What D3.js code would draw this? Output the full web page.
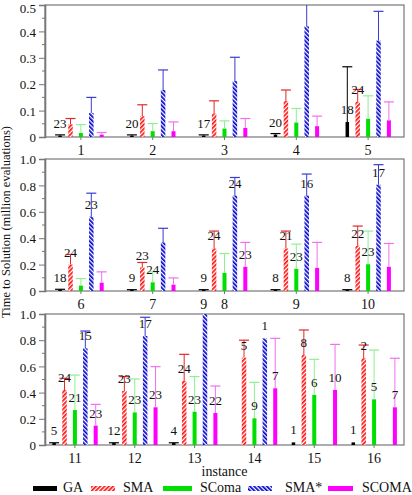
<!DOCTYPE html>
<html>
<head>
<meta charset="utf-8">
<script src="https://cdn.jsdelivr.net/npm/d3@7"></script>
<style>
body { margin: 0; background: #fff; }
</style>
</head>
<body>
<div id="chart"></div>
<script>
// instances shown in each of the three panels
const panel1 = [1, 2, 3, 4, 5];
const panel2 = [6, 7, 8, 9, 10];
const panel3 = [11, 12, 13, 14, 15, 16];
const panelMax = [0.5, 1.0, 1.0];
const ticksSmall = [0, 0.1, 0.2, 0.3, 0.4, 0.5];
const ticksLarge = [0, 0.2, 0.4, 0.6, 0.8, 1.0];

const seriesNames = ["GA", "SMA", "SComa", "SMA*", "SCOMA"];

// mean, top of error bar, number of successful runs (instances 1..16)
const gaMean  = [0.005, 0.005, 0.005, 0.009, 0.057, 0.010, 0.008, 0.008, 0.008, 0.008, 0.015, 0.015, 0.015, null, 0.020, 0.020];
const gaTop   = [0.008, 0.008, 0.008, 0.013, 0.266, 0.013, 0.010, 0.010, 0.010, 0.010, 0.017, 0.017, 0.017, null, null, null];
const gaCount = [23, 20, 17, 20, 18, 18, 9, 9, 8, 8, 5, 12, 4, null, 1, 1];

const smaMean  = [0.048, 0.079, 0.089, 0.136, 0.133, 0.200, 0.178, 0.322, 0.322, 0.343, 0.420, 0.412, 0.489, 0.667, 0.687, 0.662];
const smaTop   = [0.070, 0.122, 0.137, 0.178, 0.180, 0.277, 0.216, 0.454, 0.454, 0.492, 0.509, 0.522, 0.692, 0.800, 0.878, 0.763];
const smaCount = [null, null, null, null, 24, 24, 23, 24, 21, 22, 24, 23, 24, 5, 8, 2];

const scomaMean  = [0.015, 0.022, 0.032, 0.055, 0.069, 0.041, 0.066, 0.137, 0.168, 0.203, 0.267, 0.249, 0.254, 0.204, 0.382, 0.349];
const scomaTop   = [0.047, 0.051, 0.061, 0.108, 0.156, 0.094, 0.145, 0.284, 0.355, 0.454, 0.534, 0.504, 0.522, 0.478, 0.654, 0.725];
const scomaCount = [null, null, null, null, null, null, 24, null, 23, 23, 21, 23, 23, 9, 6, 5];

const smaStarMean  = [0.091, 0.178, 0.212, 0.419, 0.365, 0.563, 0.368, 0.723, 0.723, 0.805, 0.738, 0.832, 1.05, 0.814, null, null];
const smaStarTop   = [0.150, 0.254, 0.302, 0.560, 0.476, 0.741, 0.475, 0.860, 0.886, 0.957, 0.870, 0.975, 1.20, null, null, null];
const smaStarCount = [null, null, null, null, null, 23, null, 24, 16, 17, 15, 17, null, 1, null, null];

const scomaUpMean  = [0.009, 0.022, 0.034, 0.041, 0.063, 0.063, 0.048, 0.183, 0.175, 0.183, 0.148, 0.288, 0.244, 0.433, 0.420, 0.288];
const scomaUpTop   = [0.017, 0.057, 0.070, 0.079, 0.133, 0.145, 0.099, 0.368, 0.368, 0.360, 0.310, 0.598, 0.450, 0.814, 0.768, 0.662];
const scomaUpCount = [null, null, null, null, null, null, null, 23, null, null, 23, 23, 22, 7, 10, 7];

// build a table the drawing code can loop over
const series = [
    {name: "GA",    mean: gaMean,      top: gaTop,      count: gaCount,      fill: "#000",  err: "#000",    w: 3.5},
    {name: "SMA",   mean: smaMean,     top: smaTop,     count: smaCount,     fill: "url(#hatchRed)",  err: "#e02828", w: 4.5},
    {name: "SComa", mean: scomaMean,   top: scomaTop,   count: scomaCount,   fill: "#00e000", err: "#8ef08e", w: 4},
    {name: "SMA*",  mean: smaStarMean, top: smaStarTop, count: smaStarCount, fill: "url(#hatchBlue)", err: "#3a3ad0", w: 4.5},
    {name: "SCOMA", mean: scomaUpMean, top: scomaUpTop, count: scomaUpCount, fill: "#ff00ff", err: "#f070f0", w: 4}
];

const FONT = "'Liberation Serif', 'Times New Roman', Times, serif";
const width = 412, height = 495;
const left = 45, right = 404;
const panels = [
    {inst: panel1, max: panelMax[0], ticks: ticksSmall, top: 5,   bottom: 137},
    {inst: panel2, max: panelMax[1], ticks: ticksLarge, top: 159, bottom: 291},
    {inst: panel3, max: panelMax[2], ticks: ticksLarge, top: 314, bottom: 445}
];

const svg = d3.select("#chart")
    .append("svg")
    .attr("width", width)
    .attr("height", height)
    .attr("font-family", FONT);

const defs = svg.append("defs");

// diagonal hatches for the SMA and SMA* bars
function hatch(id, color, angle)
{
    const p = defs.append("pattern")
        .attr("id", id)
        .attr("patternUnits", "userSpaceOnUse")
        .attr("width", 3)
        .attr("height", 3)
        .attr("patternTransform", "rotate(" + angle + ")");
    p.append("rect").attr("width", 3).attr("height", 3).attr("fill", "#fff");
    p.append("rect").attr("width", 1.7).attr("height", 3).attr("fill", color);
}
hatch("hatchRed", "#ff1010", 45);
hatch("hatchBlue", "#0000d0", -45);

// offsets of the five bars inside a group, in pixels
const sx = d3.scaleBand().domain(seriesNames).range([-26, 26]);

panels.forEach((p, i) => {
    const x = d3.scaleBand().domain(p.inst).range([left, right]);
    const y = d3.scaleLinear().domain([0, p.max]).range([p.bottom, p.top]);
    const g = svg.append("g");

    defs.append("clipPath").attr("id", "clip" + i)
        .append("rect")
        .attr("x", left).attr("y", p.top)
        .attr("width", right - left).attr("height", p.bottom - p.top);

    // frame
    g.append("rect")
        .attr("x", left).attr("y", p.top)
        .attr("width", right - left).attr("height", p.bottom - p.top)
        .attr("fill", "none")
        .attr("stroke", "#777")
        .attr("stroke-width", 1.2);

    // Add the Y Axis
    const yAxis = d3.axisLeft(y)
        .tickValues(p.ticks)
        .tickSize(6)
        .tickPadding(3)
        .tickFormat(d => d === 0 ? "0" : d3.format(".1f")(d));
    const ya = g.append("g")
        .attr("transform", "translate(" + left + ",0)")
        .call(yAxis);
    ya.attr("font-family", FONT).attr("font-size", 13);
    ya.select(".domain").attr("stroke", "#777").attr("stroke-width", 1.6);
    ya.selectAll(".tick line").attr("stroke", "#777");
    ya.selectAll("text").attr("fill", "#111").attr("dy", "0.36em");
    // keep the very top label inside the page
    if (i === 0) {
        ya.selectAll("text").filter(d => d === p.max).attr("dy", "0.56em");
    }

    // minor ticks halfway between the labelled ones
    const step = p.ticks[1] - p.ticks[0];
    const minor = p.ticks.slice(1).map(t => t - step / 2);
    g.selectAll(".minor")
        .data(minor)
        .enter().append("line")
        .attr("x1", left - 3).attr("x2", left)
        .attr("y1", d => y(d)).attr("y2", d => y(d))
        .attr("stroke", "#777");

    // x tick marks and labels
    g.selectAll(".xt")
        .data(p.inst)
        .enter().append("line")
        .attr("x1", d => x(d) + x.bandwidth() / 2)
        .attr("x2", d => x(d) + x.bandwidth() / 2)
        .attr("y1", p.bottom).attr("y2", p.bottom + 3)
        .attr("stroke", "#777");
    g.selectAll(".xl")
        .data(p.inst)
        .enter().append("text")
        .attr("x", d => x(d) + x.bandwidth() / 2)
        .attr("y", p.bottom + 18)
        .attr("text-anchor", "middle")
        .attr("font-size", 14)
        .attr("fill", "#111")
        .text(d => d);

    const plot = g.append("g").attr("clip-path", "url(#clip" + i + ")");

    series.forEach(s => {
        const cx = inst => x(inst) + x.bandwidth() / 2 + sx(s.name) + sx.bandwidth() / 2;
        const rows = p.inst
            .map(inst => ({inst: inst, mean: s.mean[inst - 1], top: s.top[inst - 1], count: s.count[inst - 1]}))
            .filter(d => d.mean !== null);

        // bars
        plot.selectAll(null)
            .data(rows)
            .enter().append("rect")
            .attr("x", d => cx(d.inst) - s.w / 2)
            .attr("y", d => y(d.mean))
            .attr("width", s.w)
            .attr("height", d => y(0) - y(d.mean))
            .attr("fill", s.fill);

        // error bars
        const errs = rows.filter(d => d.top !== null);
        plot.selectAll(null)
            .data(errs)
            .enter().append("line")
            .attr("x1", d => cx(d.inst)).attr("x2", d => cx(d.inst))
            .attr("y1", d => y(d.mean)).attr("y2", d => y(d.top))
            .attr("stroke", s.err);
        plot.selectAll(null)
            .data(errs)
            .enter().append("line")
            .attr("x1", d => cx(d.inst) - 5).attr("x2", d => cx(d.inst) + 5)
            .attr("y1", d => y(d.top)).attr("y2", d => y(d.top))
            .attr("stroke", s.err)
            .attr("stroke-width", 1.2);

        // number of successful runs
        g.selectAll(null)
            .data(rows.filter(d => d.count !== null))
            .enter().append("text")
            .attr("x", d => cx(d.inst))
            .attr("y", d => y(d.mean) - 8)
            .attr("text-anchor", "middle")
            .attr("font-size", 13)
            .attr("fill", "#111")
            .text(d => d.count);
    });

    // the stray "9" printed under instance 8's GA bar
    if (i === 1) {
        g.append("text")
            .attr("x", x(8) + x.bandwidth() / 2 + sx("GA") + sx.bandwidth() / 2)
            .attr("y", p.bottom + 18)
            .attr("text-anchor", "middle")
            .attr("font-size", 14)
            .attr("fill", "#111")
            .text(gaCount[7]);
    }
});

// text label for the x axis
svg.append("text")
    .attr("x", (left + right) / 2)
    .attr("y", 476)
    .attr("text-anchor", "middle")
    .attr("font-size", 14)
    .attr("fill", "#111")
    .text("instance");

// text label for the y axis
svg.append("text")
    .attr("transform", "translate(10,222) rotate(-90)")
    .attr("text-anchor", "middle")
    .attr("font-size", 12.5)
    .attr("fill", "#111")
    .text("Time to Solution (million evaluations)");

// legend
const swatchX = [33, 91, 163, 248, 328];
const swatchW = [24, 24, 29, 24, 25];
const labelX = [63, 123, 200, 285, 362];
const legend = svg.append("g");
series.forEach((s, k) => {
    legend.append("rect")
        .attr("x", swatchX[k]).attr("y", 486)
        .attr("width", swatchW[k]).attr("height", 5)
        .attr("fill", s.fill);
    legend.append("text")
        .attr("x", labelX[k]).attr("y", 492)
        .attr("font-size", 14)
        .attr("fill", "#111")
        .text(s.name);
});

svg.selectAll("text").style("font-family", FONT);
</script>
</body>
</html>
